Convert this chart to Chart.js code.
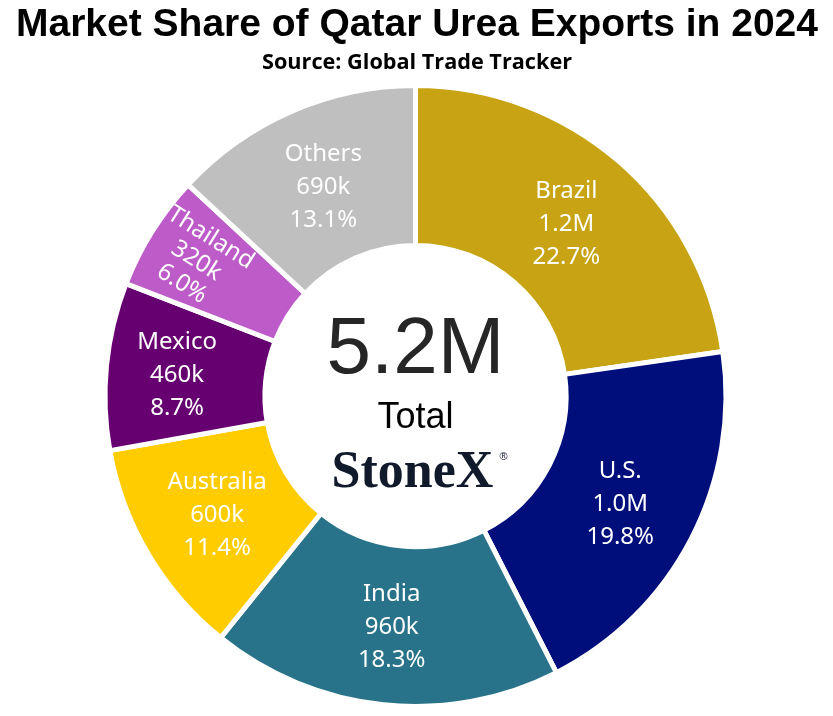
<!DOCTYPE html>
<html>
<head>
<meta charset="utf-8">
<script src="https://cdn.jsdelivr.net/npm/chart.js@4.4.1/dist/chart.umd.min.js"></script>
<style>
  html, body { margin: 0; padding: 0; background: #fff; }
  #wrap { width: 833px; height: 716px; }
</style>
</head>
<body>
<div id="wrap"><canvas id="qatarUrea" width="833" height="716"></canvas></div>
<script>
// Qatar urea exports 2024, thousand tonnes
const countries = ['Brazil', 'U.S.', 'India', 'Australia', 'Mexico', 'Thailand', 'Others'];
const exportsKt = [1192, 1039, 960, 598, 457, 316, 687];
const sliceColors = ['#C8A415', '#000E7B', '#287389', '#FFCC00', '#660070', '#BD5CC8', '#BFBFBF'];

const totalKt = exportsKt.reduce((a, b) => a + b, 0);

function fmtTonnes(v) {
  if (v >= 1000) return (v / 1000).toFixed(1) + 'M';
  return (Math.round(v / 10) * 10) + 'k';
}

// small tweaks for the crowded slices on the left
const labelShift = { 'Mexico': 9, 'Thailand': 28 };

const headerText = {
  id: 'headerText',
  afterDraw(chart) {
    const ctx = chart.ctx;
    ctx.save();
    ctx.fillStyle = '#000';
    ctx.textAlign = 'center';
    ctx.textBaseline = 'alphabetic';
    ctx.font = 'bold 39px "Liberation Sans", Arial, sans-serif';
    ctx.fillText('Market Share of Qatar Urea Exports in 2024', 417, 36, 822);
    ctx.font = 'bold 22px "Open Sans", sans-serif';
    ctx.fillText('Source: Global Trade Tracker', 417, 69, 310);
    ctx.restore();
  }
};

const centerText = {
  id: 'centerText',
  afterDraw(chart) {
    const arc = chart.getDatasetMeta(0).data[0];
    const cx = arc.x, cy = arc.y;
    const ctx = chart.ctx;
    ctx.save();
    ctx.textAlign = 'center';
    ctx.textBaseline = 'alphabetic';
    ctx.fillStyle = '#262626';
    ctx.font = '80px "Liberation Sans", Arial, sans-serif';
    ctx.fillText(fmtTonnes(totalKt), cx, cy - 23);
    ctx.fillStyle = '#000';
    ctx.font = '36px "Liberation Sans", Arial, sans-serif';
    ctx.fillText('Total', cx, cy + 32);
    ctx.fillStyle = '#111a2b';
    ctx.font = 'bold 52px "Liberation Serif", "Times New Roman", serif';
    ctx.fillText('StoneX', cx - 3, cy + 91);
    ctx.font = '11px "Liberation Sans", Arial, sans-serif';
    ctx.fillText('®', cx + 88, cy + 64);
    ctx.restore();
  }
};

const sliceLabels = {
  id: 'sliceLabels',
  afterDatasetsDraw(chart) {
    const ctx = chart.ctx;
    const meta = chart.getDatasetMeta(0);
    meta.data.forEach((arc, i) => {
      const name = countries[i];
      const mid = (arc.startAngle + arc.endAngle) / 2;
      const r = (arc.innerRadius + arc.outerRadius) / 2 + (labelShift[name] || 0);
      const x = arc.x + Math.cos(mid) * r;
      const y = arc.y + Math.sin(mid) * r;
      const lines = [name, fmtTonnes(exportsKt[i]), (exportsKt[i] / totalKt * 100).toFixed(1) + '%'];
      const lh = name === 'Thailand' ? 27 : 33;
      ctx.save();
      ctx.translate(x, y + 2);
      if (name === 'Thailand') ctx.rotate(mid - Math.PI);
      ctx.fillStyle = '#fff';
      ctx.font = '24px "Noto Sans", "Open Sans", sans-serif';
      ctx.textAlign = 'center';
      ctx.textBaseline = 'middle';
      lines.forEach((t, k) => ctx.fillText(t, 0, (k - 1) * lh));
      ctx.restore();
    });
  }
};

new Chart(document.getElementById('qatarUrea'), {
  type: 'doughnut',
  data: {
    labels: countries,
    datasets: [{
      data: exportsKt,
      backgroundColor: sliceColors,
      borderColor: '#fff',
      borderWidth: 5
    }]
  },
  options: {
    responsive: false,
    animation: false,
    cutout: '48.5%',
    layout: { padding: { top: 83, bottom: 7, left: 0, right: 2 } },
    plugins: {
      legend: { display: false },
      tooltip: { enabled: false },
      title: { display: false }
    }
  },
  plugins: [sliceLabels, centerText, headerText]
});
</script>
</body>
</html>
